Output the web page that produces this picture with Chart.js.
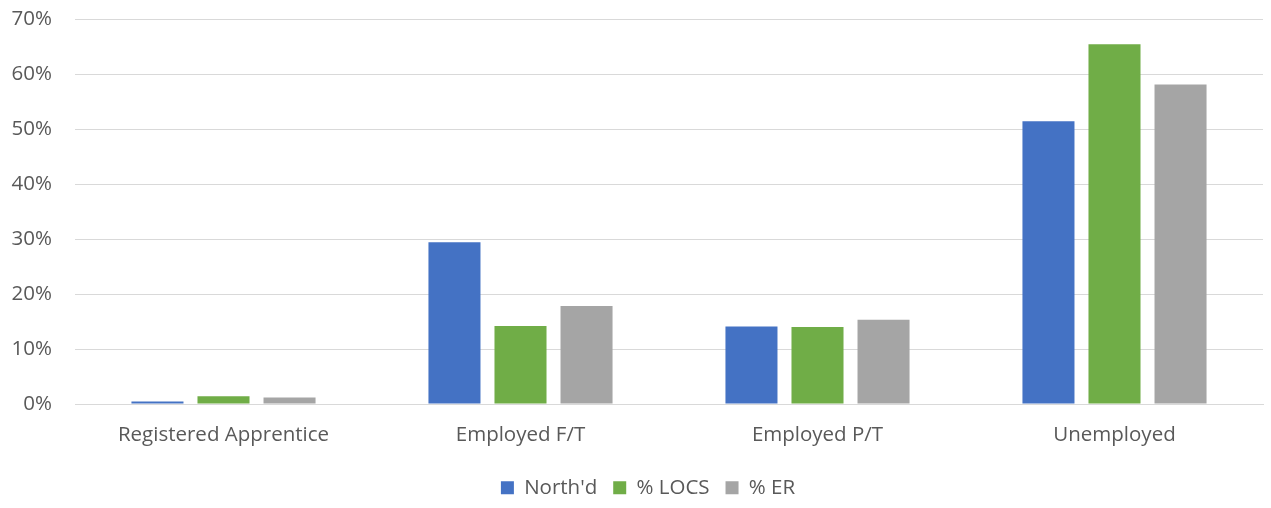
<!DOCTYPE html>
<html>
<head>
<meta charset="utf-8">
<script src="https://cdn.jsdelivr.net/npm/chart.js@4"></script>
<style>
  html, body { margin: 0; padding: 0; background: #fff; }
  #wrap { width: 1271px; height: 508px; }
</style>
</head>
<body>
<div id="wrap"><canvas id="chart" width="1271" height="508"></canvas></div>
<script>
const categories = ['Registered Apprentice', 'Employed F/T', 'Employed P/T', 'Unemployed'];
const northd = [0.45, 29.4, 14.1, 51.4];
const locs = [1.4, 14.2, 14.0, 65.4];
const er = [1.2, 17.8, 15.3, 58.1];
const yTicks = [0, 10, 20, 30, 40, 50, 60, 70];

const textColor = '#595959';
const fontFamily = "'Open Sans', 'Liberation Sans', sans-serif";
const fontSize = 20.5;

// legend in the original sits a bit right of the canvas centre
const legendShift = {
  id: 'legendShift',
  afterLayout(chart) {
    chart.legend.left += 33;
  },
};

const ctx = document.getElementById('chart').getContext('2d');
new Chart(ctx, {
  type: 'bar',
  data: {
    labels: categories,
    datasets: [
      { label: "North'd", data: northd, backgroundColor: '#4472c4' },
      { label: '% LOCS', data: locs, backgroundColor: '#70ad47' },
      { label: '% ER', data: er, backgroundColor: '#a5a5a5' },
    ],
  },
  plugins: [legendShift],
  options: {
    responsive: false,
    animation: false,
    layout: { padding: { top: 19, right: 8, left: 0, bottom: 0 } },
    datasets: {
      bar: { categoryPercentage: 0.667, barPercentage: 0.788 },
    },
    scales: {
      x: {
        grid: { display: false },
        border: { display: true, color: '#d9d9d9', width: 1 },
        ticks: { color: textColor, font: { family: fontFamily, size: fontSize }, padding: 11, maxRotation: 0 },
        afterFit: (scale) => { scale.height = 57.5; },
      },
      y: {
        min: 0,
        max: 70,
        afterBuildTicks: (scale) => { scale.ticks = yTicks.map(v => ({ value: v })); },
        // invisible tick marks push the labels left without adding top padding
        grid: { color: '#d9d9d9', lineWidth: 1, drawTicks: true, tickLength: 23, tickColor: 'rgba(0,0,0,0)' },
        border: { display: false },
        ticks: {
          color: textColor,
          font: { family: fontFamily, size: fontSize },
          padding: 0,
          callback: (v) => v + '%',
        },
        afterFit: (scale) => { scale.width = 75; },
      },
    },
    plugins: {
      legend: {
        position: 'bottom',
        labels: {
          color: textColor,
          font: { family: fontFamily, size: fontSize },
          boxWidth: 13,
          boxHeight: 13,
          padding: 16,
        },
      },
      tooltip: { enabled: false },
    },
  },
});
</script>
</body>
</html>
